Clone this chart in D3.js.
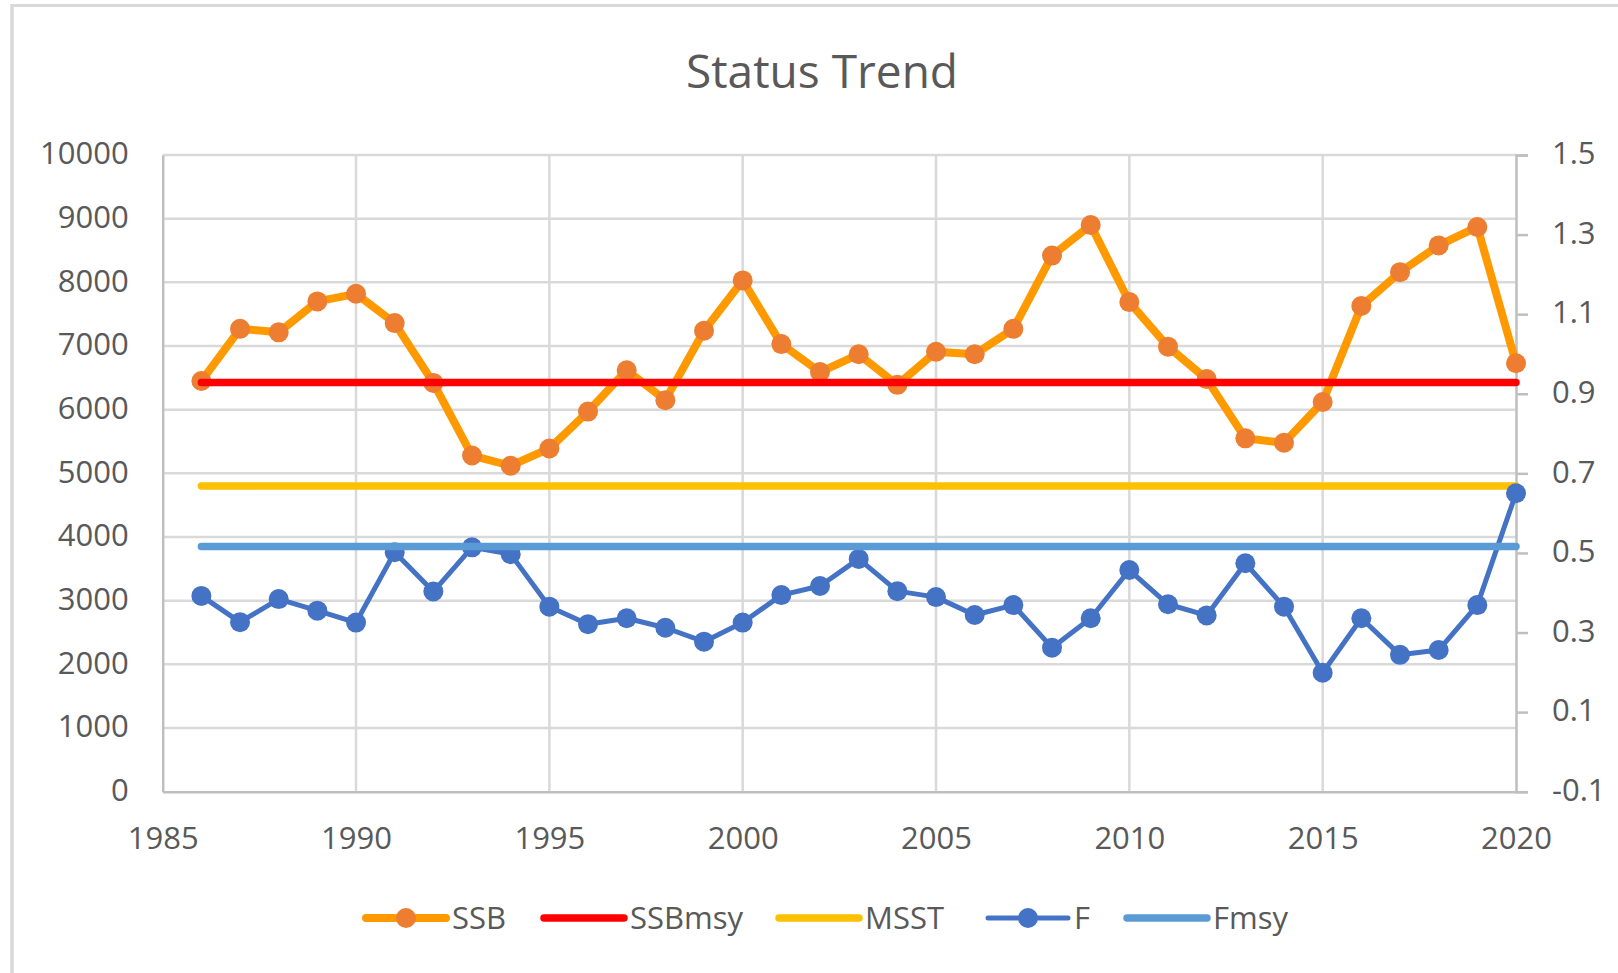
<!DOCTYPE html>
<html>
<head>
<meta charset="utf-8">
<script src="https://cdn.jsdelivr.net/npm/d3@7/dist/d3.min.js"></script>
<style>
  html, body { margin: 0; padding: 0; background: #fff; }
  svg { display: block; font-family: "Open Sans", "Noto Sans", sans-serif; }
</style>
</head>
<body>
<svg id="chart" width="1618" height="973"></svg>
<script>
// ---- data ----
const years = d3.range(1986, 2021);
const ssb = [6450, 7270, 7215, 7700, 7820, 7360, 6420, 5280, 5120, 5390,
             5970, 6620, 6150, 7240, 8030, 7030, 6590, 6870, 6390, 6910,
             6870, 7270, 8420, 8900, 7690, 6990, 6480, 5550, 5480, 6120,
             7630, 8160, 8580, 8870, 6730];
const fValues = [0.392, 0.326, 0.384, 0.355, 0.325, 0.502, 0.403, 0.514, 0.497, 0.365,
                 0.321, 0.336, 0.312, 0.277, 0.325, 0.394, 0.417, 0.485, 0.404, 0.389,
                 0.344, 0.369, 0.262, 0.336, 0.457, 0.371, 0.343, 0.474, 0.365, 0.199,
                 0.336, 0.244, 0.256, 0.369, 0.650];
const ssbMsy = 6425;
const msst = 4800;
const fMsy = 0.516;
const xTicks = [1985, 1990, 1995, 2000, 2005, 2010, 2015, 2020];
const yLeftTicks = [0, 1000, 2000, 3000, 4000, 5000, 6000, 7000, 8000, 9000, 10000];
const yRightTicks = [-0.1, 0.1, 0.3, 0.5, 0.7, 0.9, 1.1, 1.3, 1.5];
const seriesNames = ["SSB", "SSBmsy", "MSST", "F", "Fmsy"];
const title = "Status Trend";

// ---- styling ----
const C = {
  ssbLine: "#FF9900", ssbMark: "#ED7D31", ssbMsy: "#FF0000", msst: "#FFC000",
  f: "#4472C4", fMsy: "#5B9BD5", grid: "#D9D9D9", axis: "#BFBFBF", text: "#595959"
};
const plot = { left: 162.7, right: 1516, top: 155, bottom: 791.7 };

const svg = d3.select("#chart");
svg.append("rect").attr("width", 1618).attr("height", 973).attr("fill", "#fff");
// chart frame (partially visible)
svg.append("line").attr("x1", 12).attr("x2", 1618).attr("y1", 5.5).attr("y2", 5.5)
  .attr("stroke", "#D9D9D9").attr("stroke-width", 3);
svg.append("line").attr("x1", 12).attr("x2", 12).attr("y1", 4).attr("y2", 973)
  .attr("stroke", "#D9D9D9").attr("stroke-width", 3.5);

const x = d3.scaleLinear().domain([1985, 2020]).range([plot.left, plot.right]);
const yL = d3.scaleLinear().domain([0, 10000]).range([plot.bottom, plot.top]);
const yR = d3.scaleLinear().domain([-0.1, 1.5]).range([plot.bottom, plot.top]);

// title
svg.append("text").attr("x", 822).attr("y", 88).attr("text-anchor", "middle")
  .attr("font-size", 46).attr("fill", C.text).text(title);

// gridlines
const gh = svg.append("g");
gh.selectAll("line.h").data(yLeftTicks.filter(d => d > 0)).join("line")
  .attr("x1", plot.left).attr("x2", plot.right)
  .attr("y1", d => yL(d)).attr("y2", d => yL(d))
  .attr("stroke", C.grid).attr("stroke-width", 2.5);
gh.selectAll("line.v").data(xTicks.filter(d => d > 1985 && d < 2020)).join("line")
  .attr("x1", d => x(d)).attr("x2", d => x(d))
  .attr("y1", plot.top).attr("y2", plot.bottom)
  .attr("stroke", C.grid).attr("stroke-width", 2.5);

// axes
const axL = svg.append("g").attr("transform", `translate(${plot.left},0)`)
  .call(d3.axisLeft(yL).tickValues(yLeftTicks).tickSize(0).tickPadding(34).tickFormat(d3.format("d")));
const axB = svg.append("g").attr("transform", `translate(0,${plot.bottom})`)
  .call(d3.axisBottom(x).tickValues(xTicks).tickSize(0).tickPadding(48).tickFormat(d3.format("d")));
const axR = svg.append("g").attr("transform", `translate(${plot.right},0)`)
  .call(d3.axisRight(yR).tickValues(yRightTicks).tickSize(12).tickPadding(24)
    .tickFormat(d => d3.format(".1f")(d).replace("\u2212", "-")));
[axL, axB, axR].forEach(a => {
  a.select(".domain").attr("stroke", C.axis).attr("stroke-width", 2.5);
  a.selectAll(".tick line").attr("stroke", C.axis).attr("stroke-width", 2.5);
  a.selectAll("text").attr("font-size", 31).attr("fill", C.text)
    .attr("font-family", "'Open Sans', sans-serif");
});
axL.selectAll("text").attr("dy", "0.28em");
axR.selectAll("text").attr("dy", "0.28em");
axB.selectAll("text").attr("dy", "0.3em");

const ssbData = years.map((yr, i) => [yr, ssb[i]]);
const fData = years.map((yr, i) => [yr, fValues[i]]);

// SSB
const lineL = d3.line().x(d => x(d[0])).y(d => yL(d[1]));
const lineR = d3.line().x(d => x(d[0])).y(d => yR(d[1]));
svg.append("path").datum(ssbData).attr("d", lineL).attr("fill", "none")
  .attr("stroke", C.ssbLine).attr("stroke-width", 8).attr("stroke-linejoin", "round").attr("stroke-linecap", "round");
svg.append("g").selectAll("circle").data(ssbData).join("circle")
  .attr("cx", d => x(d[0])).attr("cy", d => yL(d[1])).attr("r", 10).attr("fill", C.ssbMark);

// SSBmsy
svg.append("path").datum([[1986, ssbMsy], [2020, ssbMsy]]).attr("d", lineL)
  .attr("stroke", C.ssbMsy).attr("stroke-width", 7.5).attr("stroke-linecap", "round");
// MSST
svg.append("path").datum([[1986, msst], [2020, msst]]).attr("d", lineL)
  .attr("stroke", C.msst).attr("stroke-width", 7.5).attr("stroke-linecap", "round");

// F
svg.append("path").datum(fData).attr("d", lineR).attr("fill", "none")
  .attr("stroke", C.f).attr("stroke-width", 5).attr("stroke-linejoin", "round").attr("stroke-linecap", "round");
svg.append("g").selectAll("circle").data(fData).join("circle")
  .attr("cx", d => x(d[0])).attr("cy", d => yR(d[1])).attr("r", 10).attr("fill", C.f);

// Fmsy
svg.append("path").datum([[1986, fMsy], [2020, fMsy]]).attr("d", lineR)
  .attr("stroke", C.fMsy).attr("stroke-width", 7.5).attr("stroke-linecap", "round");

// legend
const legendItems = [
  { name: seriesNames[0], color: C.ssbLine, marker: C.ssbMark, w: 8, x0: 366 },
  { name: seriesNames[1], color: C.ssbMsy, marker: null, w: 7.5, x0: 544 },
  { name: seriesNames[2], color: C.msst, marker: null, w: 7.5, x0: 779 },
  { name: seriesNames[3], color: C.f, marker: C.f, w: 5, x0: 988 },
  { name: seriesNames[4], color: C.fMsy, marker: null, w: 7.5, x0: 1127 }
];
const ly = 918;
const lg = svg.append("g");
legendItems.forEach(it => {
  lg.append("line").attr("x1", it.x0).attr("x2", it.x0 + 80).attr("y1", ly).attr("y2", ly)
    .attr("stroke", it.color).attr("stroke-width", it.w).attr("stroke-linecap", "round");
  if (it.marker) lg.append("circle").attr("cx", it.x0 + 40).attr("cy", ly).attr("r", 10).attr("fill", it.marker);
  lg.append("text").attr("x", it.x0 + 86).attr("y", ly).attr("dy", "0.36em")
    .attr("font-size", 31).attr("fill", C.text).text(it.name);
});
</script>
</body>
</html>
